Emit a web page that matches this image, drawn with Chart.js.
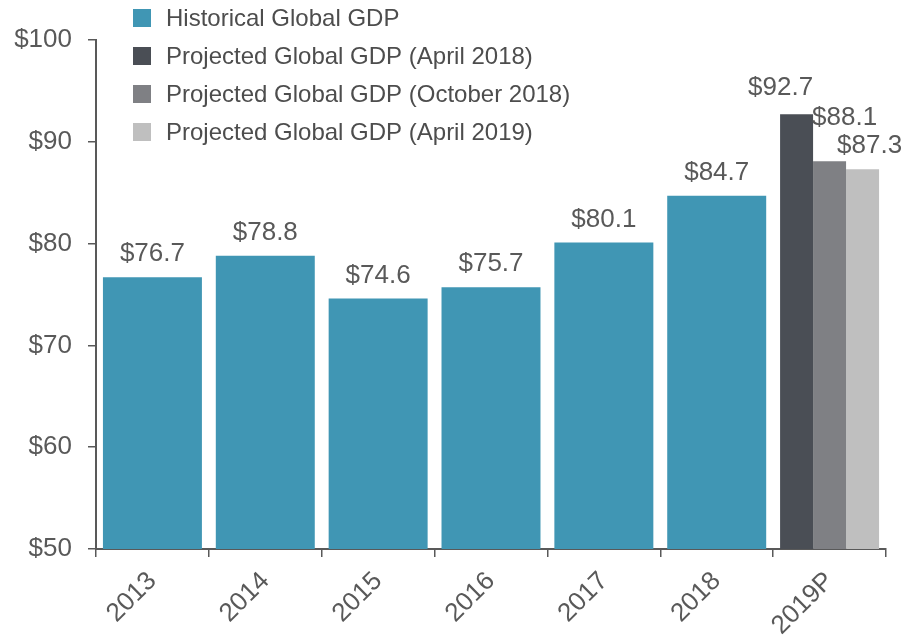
<!DOCTYPE html>
<html>
<head>
<meta charset="utf-8">
<script src="https://cdn.jsdelivr.net/npm/chart.js@4/dist/chart.umd.min.js"></script>
<style>
html,body{margin:0;padding:0;background:#fff;}
#wrap{width:905px;height:637px;}
</style>
</head>
<body>
<div id="wrap"><canvas id="c" width="905" height="637"></canvas></div>
<script>
const categories = ["2013", "2014", "2015", "2016", "2017", "2018", "2019P"];
const historical = [76.7, 78.8, 74.6, 75.7, 80.1, 84.7, null];
const projectedApr2018 = [null, null, null, null, null, null, 92.7];
const projectedOct2018 = [null, null, null, null, null, null, 88.1];
const projectedApr2019 = [null, null, null, null, null, null, 87.3];
const seriesNames = [
  "Historical Global GDP",
  "Projected Global GDP (April 2018)",
  "Projected Global GDP (October 2018)",
  "Projected Global GDP (April 2019)"
];
const yTicks = [50, 60, 70, 80, 90, 100];

const FONT = "'Liberation Sans', Arial, sans-serif";
const TEXT = "#595959";
const AXIS = "#595959";
const colors = ["#4096B4", "#4A4E55", "#7F8084", "#BFBFBF"];

// label offsets per dataset (style only): [dx, gap above bar top]
const labelOffsets = [[0, 16], [-16, 19], [15, 36], [7, 16]];

const valueLabels = {
  id: 'valueLabels',
  afterDatasetsDraw(chart) {
    const ctx = chart.ctx;
    ctx.save();
    ctx.font = "26px " + FONT;
    ctx.fillStyle = TEXT;
    ctx.textAlign = "center";
    ctx.textBaseline = "alphabetic";
    chart.data.datasets.forEach((ds, di) => {
      const meta = chart.getDatasetMeta(di);
      meta.data.forEach((bar, i) => {
        const v = ds.data[i];
        if (v === null || v === undefined) return;
        const off = labelOffsets[di];
        ctx.fillText("$" + v.toFixed(1), bar.x + off[0], bar.y - off[1]);
      });
    });
    ctx.restore();
  }
};

const customLegend = {
  id: 'customLegend',
  afterDraw(chart) {
    const ctx = chart.ctx;
    ctx.save();
    ctx.font = "24px " + FONT;
    ctx.textBaseline = "middle";
    ctx.textAlign = "left";
    chart.data.datasets.forEach((ds, di) => {
      const cy = 18 + di * 38;
      ctx.fillStyle = ds.backgroundColor;
      ctx.fillRect(133, cy - 9, 18, 18);
      ctx.fillStyle = "#4d4d4d";
      ctx.fillText(ds.label, 166, cy + 1);
    });
    ctx.restore();
  }
};

const mk = (label, data, color) => ({
  label, data,
  backgroundColor: color,
  borderWidth: 0,
  skipNull: true,
  categoryPercentage: 0.877,
  barPercentage: 1.0
});

new Chart(document.getElementById('c'), {
  type: 'bar',
  data: {
    labels: categories,
    datasets: [
      mk(seriesNames[0], historical, colors[0]),
      mk(seriesNames[1], projectedApr2018, colors[1]),
      mk(seriesNames[2], projectedOct2018, colors[2]),
      mk(seriesNames[3], projectedApr2019, colors[3])
    ]
  },
  options: {
    responsive: false,
    animation: false,
    devicePixelRatio: 1,
    layout: { padding: { top: 40, right: 19, left: 0, bottom: 0 } },
    plugins: {
      legend: { display: false },
      tooltip: { enabled: false }
    },
    scales: {
      x: {
        offset: true,
        grid: {
          offset: true,
          drawOnChartArea: false,
          drawTicks: true,
          tickLength: 8,
          color: AXIS,
          lineWidth: 1.5
        },
        border: { color: AXIS, width: 2 },
        ticks: {
          color: TEXT,
          font: { family: FONT, size: 26 },
          maxRotation: 45,
          minRotation: 45,
          padding: 9
        },
        afterFit(scale) { scale.height = 88; }
      },
      y: {
        min: 50,
        max: 100,
        afterBuildTicks(scale) { scale.ticks = yTicks.map(v => ({ value: v })); },
        grid: {
          drawOnChartArea: false,
          drawTicks: true,
          tickLength: 8,
          color: AXIS,
          lineWidth: 1.5
        },
        border: { color: AXIS, width: 2 },
        ticks: {
          color: TEXT,
          font: { family: FONT, size: 26 },
          padding: 16,
          callback: (v) => "$" + v
        },
        afterFit(scale) { scale.width = 96; }
      }
    }
  },
  plugins: [valueLabels, customLegend]
});
</script>
</body>
</html>
